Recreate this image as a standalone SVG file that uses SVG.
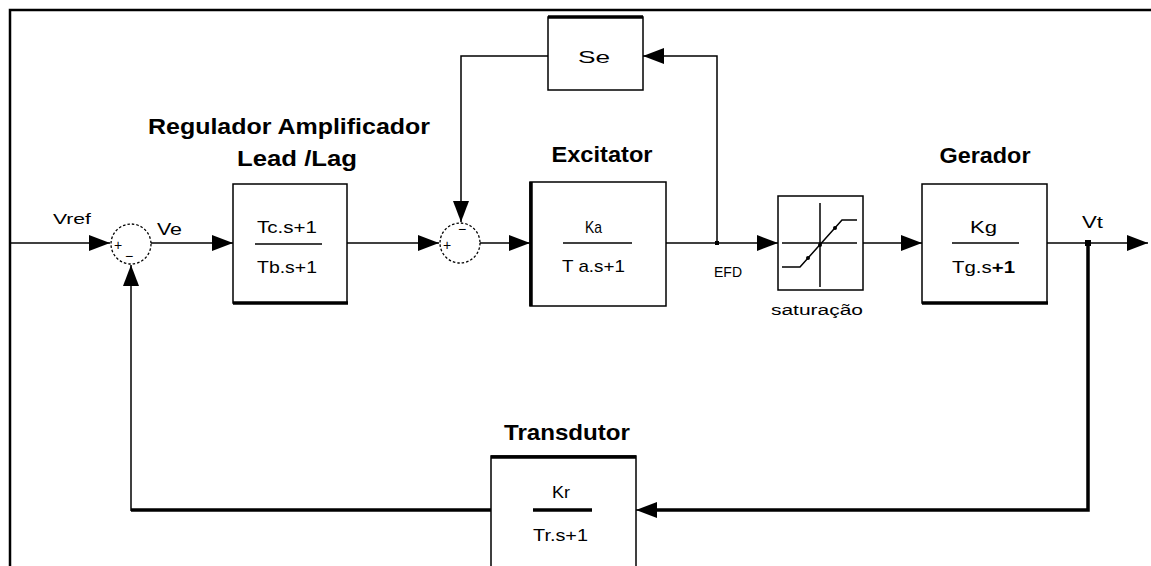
<svg xmlns="http://www.w3.org/2000/svg" width="1151" height="566" viewBox="0 0 1151 566">
<style>
.ln{stroke:#000;stroke-width:1.5;fill:none}
.thk{stroke:#000;stroke-width:3.5;fill:none}
.box{fill:#fff;stroke:#000;stroke-width:1.5}
.edge{stroke:#000;stroke-width:3.5}
.sum{fill:#fff;stroke:#000;stroke-width:1.3;stroke-dasharray:2.5 2}
.t{font-family:"Liberation Sans",Arial,sans-serif;font-size:17px;fill:#000}
.s{font-family:"Liberation Sans",Arial,sans-serif;font-size:14px;fill:#000}
.b{font-family:"Liberation Sans",Arial,sans-serif;font-size:22px;font-weight:bold;fill:#000}
.m{text-anchor:middle}
</style>
<defs>
<marker id="ah" markerUnits="userSpaceOnUse" markerWidth="21" markerHeight="16" refX="21" refY="8" orient="auto">
<path d="M0,0 L21,8 L0,16 z" fill="#000"/>
</marker>
</defs>
<rect width="1151" height="566" fill="#fff"/>
<path d="M10,566 V10 H1151" stroke="#000" stroke-width="2.5" fill="none"/>

<g id="connectors">
<path class="ln" d="M10,243 H110" marker-end="url(#ah)"/>
<path class="ln" d="M151,243 H233" marker-end="url(#ah)"/>
<path class="ln" d="M347,243 H439" marker-end="url(#ah)"/>
<path class="ln" d="M480,243 H530" marker-end="url(#ah)"/>
<path class="ln" d="M666,243 H778" marker-end="url(#ah)"/>
<path class="ln" d="M717,243 V56 H643" marker-end="url(#ah)"/>
<path class="ln" d="M548,56 H461 V222" marker-end="url(#ah)"/>
<path class="ln" d="M863,243 H922" marker-end="url(#ah)"/>
<path class="ln" d="M1047,243 H1148" marker-end="url(#ah)"/>
<path class="thk" d="M1088,243 V510 H655"/>
<path class="ln" d="M655,510 H636" marker-end="url(#ah)"/>
<path class="thk" d="M491,510 H131"/>
<path class="ln" d="M131,511 V265" marker-end="url(#ah)"/>
<rect x="715" y="241" width="4" height="4" fill="#000"/>
<rect x="1085" y="240" width="6" height="6" fill="#000"/>
<text class="s" x="53" y="224" textLength="38" lengthAdjust="spacingAndGlyphs">Vref</text>
<text class="t" x="157" y="235" textLength="25" lengthAdjust="spacingAndGlyphs">Ve</text>
<text class="s" x="714" y="277" font-size="15" textLength="28" lengthAdjust="spacingAndGlyphs">EFD</text>
<text class="t" x="1082" y="228" textLength="21" lengthAdjust="spacingAndGlyphs">Vt</text>
</g>

<g id="sum1">
<circle class="sum" cx="131" cy="244" r="20"/>
<text class="s m" x="118" y="250">+</text>
<text class="s m" x="129" y="261">−</text>
</g>

<g id="leadlag">
<text class="b m" x="289" y="134" textLength="282" lengthAdjust="spacingAndGlyphs">Regulador Amplificador</text>
<text class="b m" x="297" y="166" textLength="120" lengthAdjust="spacingAndGlyphs">Lead /Lag</text>
<rect class="box" x="233" y="184" width="114" height="119"/>
<line class="edge" x1="233" y1="303" x2="348" y2="303"/>
<line class="ln" x1="255" y1="244" x2="322" y2="244"/>
<text class="t" x="257" y="233" textLength="60" lengthAdjust="spacingAndGlyphs">Tc.s+1</text>
<text class="t" x="257" y="273" textLength="60" lengthAdjust="spacingAndGlyphs">Tb.s+1</text>
</g>

<g id="sum2">
<circle class="sum" cx="460" cy="243" r="20"/>
<text class="s m" x="447" y="250">+</text>
<text class="s m" x="462" y="234">−</text>
</g>

<g id="se">
<rect class="box" x="548" y="17" width="95" height="73"/>
<line class="edge" x1="548" y1="17" x2="643" y2="17"/>
<text class="t" x="578" y="63" font-size="20" textLength="32" lengthAdjust="spacingAndGlyphs">Se</text>
</g>

<g id="excitator">
<text class="b m" x="602" y="162" textLength="101" lengthAdjust="spacingAndGlyphs">Excitator</text>
<rect class="box" x="530" y="182" width="136" height="124"/>
<line class="edge" x1="531" y1="182" x2="531" y2="306"/>
<line class="ln" x1="563" y1="243" x2="632" y2="243"/>
<text class="t" x="585" y="233" textLength="17" lengthAdjust="spacingAndGlyphs">Ka</text>
<text class="t" x="562" y="272" textLength="63" lengthAdjust="spacingAndGlyphs">T a.s+1</text>
</g>

<g id="saturacao">
<rect class="box" x="778" y="196" width="85" height="94"/>
<line class="ln" x1="782" y1="243" x2="857" y2="243"/>
<line class="ln" x1="820" y1="203" x2="820" y2="287"/>
<path class="ln" d="M782,267 H800 L842,220 H857"/>
<circle cx="808" cy="258" r="2" fill="#000"/>
<circle cx="820" cy="245" r="2" fill="#000"/>
<circle cx="835" cy="228" r="2" fill="#000"/>
<text class="s" x="771" y="315" textLength="92" lengthAdjust="spacingAndGlyphs">saturação</text>
</g>

<g id="gerador">
<text class="b m" x="985" y="163" textLength="91" lengthAdjust="spacingAndGlyphs">Gerador</text>
<rect class="box" x="922" y="184" width="125" height="119"/>
<line class="edge" x1="922" y1="303" x2="1048" y2="303"/>
<line class="ln" x1="952" y1="243" x2="1019" y2="243"/>
<text class="t" x="970" y="233" textLength="27" lengthAdjust="spacingAndGlyphs">Kg</text>
<text class="t" x="952" y="273" textLength="63" lengthAdjust="spacingAndGlyphs">Tg.s<tspan font-weight="bold">+1</tspan></text>
</g>

<g id="transdutor">
<text class="b m" x="567" y="440" textLength="126" lengthAdjust="spacingAndGlyphs">Transdutor</text>
<rect class="box" x="491" y="456" width="145" height="115"/>
<line class="edge" x1="491" y1="457" x2="636" y2="457"/>
<line class="thk" x1="533" y1="510" x2="592" y2="510"/>
<text class="t" x="552" y="498" textLength="18" lengthAdjust="spacingAndGlyphs">Kr</text>
<text class="t" x="533" y="541" textLength="55" lengthAdjust="spacingAndGlyphs">Tr.s+1</text>
</g>
</svg>
